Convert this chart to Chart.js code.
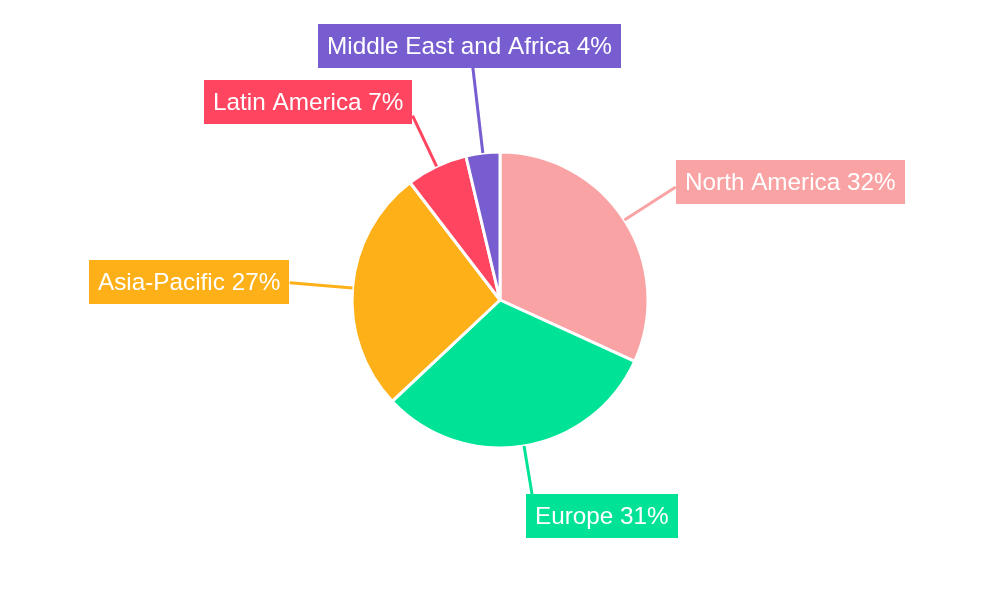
<!DOCTYPE html>
<html>
<head>
<meta charset="utf-8">
<script src="https://cdn.jsdelivr.net/npm/chart.js@4/dist/chart.umd.min.js"></script>
<style>
  html, body { margin: 0; padding: 0; background: #ffffff; }
  #wrap { width: 1000px; height: 600px; position: relative; }
</style>
</head>
<body>
<div id="wrap"><canvas id="chart" width="1000" height="600"></canvas></div>
<script>
// Regional share of revenue
const regions = ['North America', 'Europe', 'Asia-Pacific', 'Latin America', 'Middle East and Africa'];
const shares = [31.8, 31.2, 26.6, 6.7, 3.7];
const colors = ['#F9A3A4', '#00E396', '#FEB019', '#FF4560', '#775DD0'];

// Callout placement: leader length beyond the rim, and which point of the
// label box (fractions of width/height) sits at the leader's outer end.
const calloutLength = [61, 49, 63, 56, 86];
const calloutAnchorX = [0, 0.04, 1, 1, 0.51];
const calloutAnchorY = [0.61, 0, 0.52, 0.8, 1];

const LABEL_FONT = '24.3px "Liberation Sans", Arial, sans-serif';
const PAD_X = 9;
const BOX_H = 44;

const calloutPlugin = {
  id: 'callouts',
  afterDatasetsDraw(chart) {
    const ctx = chart.ctx;
    const meta = chart.getDatasetMeta(0);
    const data = chart.data.datasets[0].data;
    const total = data.reduce((a, b) => a + b, 0);
    ctx.save();
    ctx.font = LABEL_FONT;
    const boxes = [];
    meta.data.forEach((arc, i) => {
      const p = arc.getProps(['x', 'y', 'startAngle', 'endAngle', 'outerRadius']);
      const mid = (p.startAngle + p.endAngle) / 2;
      const cos = Math.cos(mid), sin = Math.sin(mid);
      const x0 = p.x + cos * p.outerRadius;
      const y0 = p.y + sin * p.outerRadius;
      const r1 = p.outerRadius + calloutLength[i];
      const x1 = p.x + cos * r1;
      const y1 = p.y + sin * r1;
      // leader line
      ctx.strokeStyle = colors[i];
      ctx.lineWidth = 3;
      ctx.beginPath();
      ctx.moveTo(x0, y0);
      ctx.lineTo(x1, y1);
      ctx.stroke();
      const text = regions[i] + ' ' + Math.round(data[i] / total * 100) + '%';
      const w = ctx.measureText(text).width + PAD_X * 2;
      const bx = x1 - calloutAnchorX[i] * w;
      const by = y1 - calloutAnchorY[i] * BOX_H;
      boxes.push({ text, bx, by, w, color: colors[i] });
    });
    boxes.forEach(b => {
      ctx.fillStyle = b.color;
      ctx.fillRect(Math.round(b.bx), Math.round(b.by), Math.round(b.w), BOX_H);
      ctx.fillStyle = '#ffffff';
      ctx.textAlign = 'left';
      ctx.textBaseline = 'middle';
      ctx.fillText(b.text, Math.round(b.bx) + PAD_X, Math.round(b.by) + BOX_H / 2 + 1);
    });
    ctx.restore();
  }
};

new Chart(document.getElementById('chart'), {
  type: 'pie',
  data: {
    labels: regions,
    datasets: [{
      data: shares,
      backgroundColor: colors,
      borderColor: '#ffffff',
      borderWidth: 3,
      hoverOffset: 0
    }]
  },
  options: {
    responsive: false,
    animation: false,
    radius: 148,
    layout: { padding: 0 },
    plugins: {
      legend: { display: false },
      tooltip: { enabled: false }
    },
    events: []
  },
  plugins: [calloutPlugin]
});
</script>
</body>
</html>
